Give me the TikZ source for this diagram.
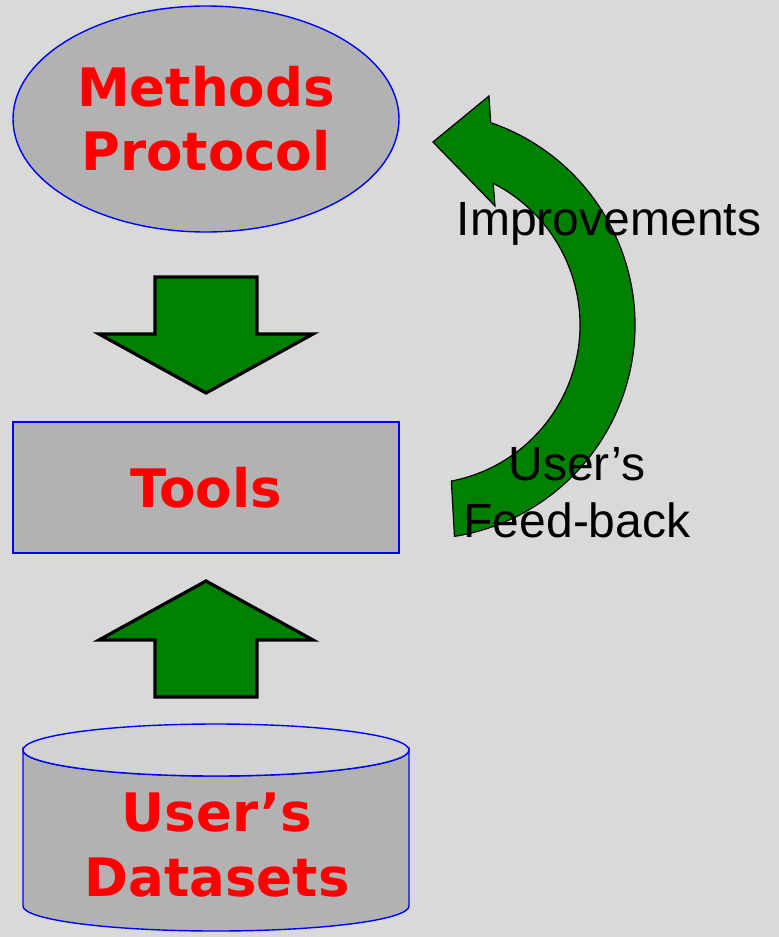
\documentclass[tikz,border=0pt]{standalone}
\usepackage{fontspec}
\setmainfont{Liberation Sans}
\newfontfamily\verdana{DejaVu Sans}
\usetikzlibrary{shapes.geometric}

\definecolor{bggrey}{HTML}{D9D9D9}
\definecolor{boxgrey}{HTML}{B2B2B2}
\definecolor{topgrey}{HTML}{D2D2D2}
\definecolor{leafgreen}{HTML}{008000}

\tikzset{bnode/.style = {color = blue,
                         fill = boxgrey,
                         line width = 0.7pt,
                         inner sep = 0pt,
                         text = red,
                         align = center,
                         font = \verdana\bfseries\fontsize{26.5}{32}\selectfont,
                         draw}}

\begin{document}
\begin{tikzpicture}[x=0.5pt, y=0.5pt,
                    blockarrow/.style = {fill = leafgreen,
                                         draw = black,
                                         line width = 1.6pt,
                                         line join = miter},
                    loopnode/.style = {align = center,
                                       inner sep = 0pt,
                                       font = \fontsize{24}{28.5}\selectfont}]
		\useasboundingbox (0,0) rectangle (779,-937);
		\fill[bggrey] (0,0) rectangle (779,-937);
		% loop arrow
		\coordinate (pivot) at (421,-325);
		\draw[fill = leafgreen, line width = 0.6pt]
			([shift={(71:214)}]pivot) arc[start angle=71, end angle=-81, radius=214]
			-- ([shift={(-79:159)}]pivot) arc[start angle=-79, end angle=63, radius=159]
			-- (495,-206) -- (433,-142) -- (489,-96) -- cycle;
		\node[bnode, shape = ellipse, minimum width = 193pt, minimum height = 113pt] (methods) at (206,-119) {Methods\\Protocol};
		\node[bnode, shape = rectangle, minimum width = 193pt, minimum height = 65.5pt] (tools) at (206,-487.5) {Tools};
		% datasets drum
		\filldraw[blue, line width = 0.7pt, fill = boxgrey] (23,-750) -- (23,-906)
			arc[start angle=180, end angle=360, x radius=193, y radius=25]
			-- (409,-750) arc[start angle=360, end angle=180, x radius=193, y radius=26] -- cycle;
		\filldraw[blue, line width = 0.7pt, fill = topgrey] (216,-750) ellipse[x radius=193, y radius=26];
		\node[bnode, draw = none, fill = none, font = \verdana\bfseries\fontsize{26.5}{32.5}\selectfont] (datasets) at (217,-845) {User’s\\Datasets};
		% block arrows
		\draw[blockarrow, shift={(206,-277)}] (-51,0) -- (51,0) -- (51,-57) -- (107,-57) -- (0,-116) -- (-107,-57) -- (-51,-57) -- cycle;
		\draw[blockarrow, shift={(206,-697)}] (-51,0) -- (51,0) -- (51,57) -- (107,57) -- (0,116) -- (-107,57) -- (-51,57) -- cycle;
		\node[loopnode] (improve) at (609,-224) {Improvements};
		\node[loopnode] (feedback) at (577,-493) {User’s\\Feed-back};
	\end{tikzpicture}
\end{document}
